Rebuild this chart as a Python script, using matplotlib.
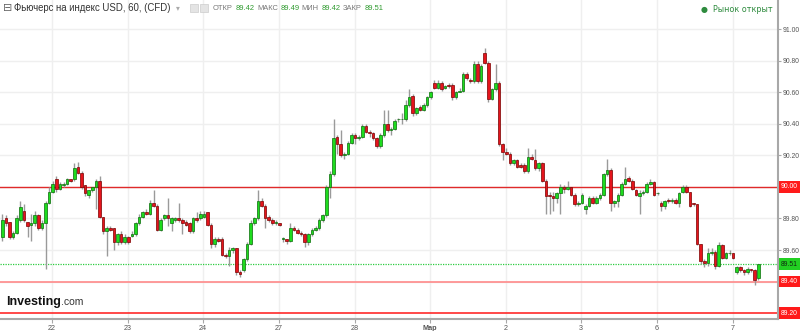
# -*- coding: utf-8 -*-
# Фьючерс на индекс USD, часовые свечи (60)
import numpy as np
import matplotlib
matplotlib.use('Agg')
import matplotlib.pyplot as plt
from matplotlib.patches import Rectangle

# ============================================================
# данные (open / close / high / low)
# ============================================================
opens = [89.68, 89.80, 89.78, 89.68, 89.71, 89.79, 89.85, 89.78, 89.76, 89.77,
         89.82, 89.74, 89.77, 89.90, 89.97, 90.05, 89.99, 90.01, 90.02, 90.05,
         90.05, 90.13, 90.09, 90.01, 89.95, 89.98, 90.00, 90.04, 89.81, 89.72,
         89.74, 89.74, 89.65, 89.70, 89.65, 89.68, 89.69, 89.70, 89.77, 89.81,
         89.84, 89.83, 89.90, 89.88, 89.73, 89.80, 89.82, 89.77, 89.79, 89.80,
         89.79, 89.78, 89.77, 89.72, 89.80, 89.80, 89.81, 89.84, 89.76, 89.64,
         89.67, 89.67, 89.57, 89.56, 89.60, 89.61, 89.46, 89.47, 89.54, 89.64,
         89.77, 89.80, 89.91, 89.88, 89.81, 89.79, 89.77, 89.77, 89.67, 89.67,
         89.66, 89.74, 89.73, 89.71, 89.70, 89.65, 89.70, 89.73, 89.74, 89.79,
         89.82, 90.00, 90.08, 90.32, 90.27, 90.20, 90.21, 90.28, 90.33, 90.31,
         90.32, 90.39, 90.35, 90.34, 90.31, 90.26, 90.33, 90.40, 90.36, 90.37,
         90.43, 90.43, 90.43, 90.52, 90.58, 90.47, 90.51, 90.49, 90.52, 90.57,
         90.66, 90.63, 90.66, 90.63, 90.65, 90.65, 90.57, 90.60, 90.61, 90.72,
         90.68, 90.67, 90.78, 90.67, 90.85, 90.79, 90.56, 90.62, 90.66, 90.27,
         90.22, 90.21, 90.15, 90.17, 90.14, 90.14, 90.10, 90.19, 90.17, 90.12,
         90.15, 90.04, 89.95, 89.94, 89.93, 89.96, 90.00, 89.99, 90.00, 89.95,
         89.89, 89.90, 89.86, 89.88, 89.93, 89.90, 89.93, 89.95, 90.08, 90.11,
         89.90, 89.91, 89.95, 90.02, 90.06, 90.04, 89.98, 89.94, 89.96, 89.97,
         90.02, 90.03, 89.96, 89.90, 89.88, 89.92, 89.91, 89.92, 89.90, 89.97,
         90.00, 89.97, 89.90, 89.89, 89.64, 89.53, 89.52, 89.58, 89.59, 89.50,
         89.63, 89.55, 89.58, 89.58, 89.46, 89.49, 89.47, 89.46, 89.48, 89.47,
         89.42]
closes = [89.79, 89.77, 89.68, 89.71, 89.80, 89.87, 89.79, 89.75, 89.77, 89.82,
          89.74, 89.77, 89.90, 89.97, 90.02, 89.99, 90.02, 90.02, 90.05, 90.04,
          90.12, 90.09, 90.00, 89.96, 89.98, 90.00, 90.04, 89.81, 89.72, 89.74,
          89.73, 89.65, 89.70, 89.65, 89.68, 89.65, 89.70, 89.77, 89.81, 89.84,
          89.83, 89.90, 89.88, 89.73, 89.79, 89.82, 89.80, 89.80, 89.80, 89.79,
          89.77, 89.76, 89.72, 89.80, 89.79, 89.83, 89.83, 89.76, 89.64, 89.67,
          89.66, 89.57, 89.56, 89.60, 89.61, 89.46, 89.45, 89.54, 89.64, 89.77,
          89.80, 89.91, 89.88, 89.80, 89.79, 89.77, 89.78, 89.76, 89.67, 89.66,
          89.74, 89.73, 89.71, 89.70, 89.65, 89.70, 89.73, 89.74, 89.79, 89.82,
          90.00, 90.08, 90.31, 90.27, 90.20, 90.21, 90.28, 90.33, 90.31, 90.32,
          90.39, 90.35, 90.34, 90.31, 90.26, 90.33, 90.40, 90.36, 90.37, 90.42,
          90.43, 90.43, 90.52, 90.57, 90.47, 90.50, 90.49, 90.52, 90.57, 90.60,
          90.63, 90.66, 90.62, 90.64, 90.64, 90.57, 90.60, 90.61, 90.72, 90.69,
          90.67, 90.78, 90.67, 90.77, 90.79, 90.56, 90.62, 90.66, 90.27, 90.22,
          90.21, 90.15, 90.17, 90.13, 90.13, 90.10, 90.19, 90.18, 90.12, 90.15,
          90.04, 89.94, 89.94, 89.93, 89.96, 90.00, 89.99, 90.00, 89.95, 89.89,
          89.90, 89.95, 89.88, 89.93, 89.90, 89.93, 89.95, 90.08, 90.11, 89.90,
          89.91, 89.95, 90.02, 90.05, 90.04, 89.99, 89.95, 89.96, 89.97, 90.02,
          90.03, 89.95, 89.96, 89.88, 89.91, 89.91, 89.92, 89.90, 89.96, 90.00,
          89.97, 89.88, 89.89, 89.64, 89.53, 89.52, 89.58, 89.59, 89.50, 89.63,
          89.55, 89.58, 89.58, 89.55, 89.49, 89.47, 89.46, 89.48, 89.47, 89.41,
          89.51]
highs = [89.83, 89.82, 89.78, 89.72, 89.82, 89.91, 89.89, 89.78, 89.83, 89.85,
         89.83, 89.79, 89.91, 90.00, 90.04, 90.07, 90.03, 90.03, 90.06, 90.05,
         90.15, 90.16, 90.10, 90.01, 89.98, 90.00, 90.05, 90.07, 89.81, 89.75,
         89.75, 89.74, 89.71, 89.72, 89.70, 89.69, 89.72, 89.78, 89.83, 89.85,
         89.86, 89.92, 89.98, 89.89, 89.80, 89.83, 89.93, 89.81, 89.81, 89.90,
         89.80, 89.79, 89.78, 89.81, 89.84, 89.85, 89.85, 89.84, 89.77, 89.68,
         89.68, 89.68, 89.58, 89.62, 89.62, 89.61, 89.47, 89.55, 89.65, 89.79,
         89.81, 89.98, 89.93, 89.89, 89.82, 89.80, 89.79, 89.77, 89.68, 89.67,
         89.77, 89.75, 89.74, 89.72, 89.71, 89.71, 89.74, 89.75, 89.80, 89.83,
         90.01, 90.10, 90.43, 90.33, 90.36, 90.22, 90.29, 90.34, 90.34, 90.33,
         90.40, 90.40, 90.36, 90.35, 90.32, 90.34, 90.49, 90.49, 90.38, 90.43,
         90.44, 90.47, 90.55, 90.62, 90.59, 90.51, 90.52, 90.53, 90.58, 90.61,
         90.68, 90.68, 90.67, 90.65, 90.66, 90.66, 90.61, 90.63, 90.73, 90.73,
         90.69, 90.80, 90.80, 90.78, 90.88, 90.80, 90.63, 90.78, 90.67, 90.28,
         90.25, 90.22, 90.18, 90.18, 90.15, 90.15, 90.25, 90.21, 90.24, 90.16,
         90.16, 90.05, 89.97, 89.97, 89.97, 90.02, 90.01, 90.04, 90.00, 89.96,
         89.91, 89.96, 89.89, 89.94, 89.94, 89.94, 89.96, 90.09, 90.18, 90.12,
         89.92, 89.96, 90.03, 90.13, 90.07, 90.05, 89.99, 89.98, 89.98, 90.03,
         90.05, 90.04, 89.97, 89.91, 89.92, 89.93, 89.93, 89.93, 89.97, 90.01,
         90.01, 89.97, 89.90, 89.89, 89.64, 89.54, 89.61, 89.61, 89.60, 89.65,
         89.64, 89.59, 89.60, 89.58, 89.50, 89.50, 89.48, 89.49, 89.48, 89.48,
         89.51]
lows = [89.66, 89.75, 89.67, 89.67, 89.70, 89.78, 89.78, 89.68, 89.66, 89.75,
        89.73, 89.73, 89.48, 89.89, 89.96, 89.97, 89.98, 90.00, 90.01, 90.03,
        90.04, 90.08, 89.99, 89.94, 89.93, 89.97, 89.86, 89.80, 89.70, 89.56,
        89.72, 89.60, 89.63, 89.64, 89.64, 89.64, 89.68, 89.69, 89.76, 89.80,
        89.82, 89.82, 89.87, 89.72, 89.72, 89.79, 89.75, 89.72, 89.78, 89.78,
        89.70, 89.75, 89.71, 89.71, 89.78, 89.79, 89.80, 89.75, 89.61, 89.62,
        89.65, 89.56, 89.55, 89.50, 89.58, 89.44, 89.43, 89.46, 89.53, 89.63,
        89.76, 89.79, 89.87, 89.74, 89.78, 89.76, 89.76, 89.75, 89.65, 89.64,
        89.65, 89.72, 89.70, 89.69, 89.62, 89.63, 89.69, 89.72, 89.73, 89.78,
        89.81, 89.93, 90.07, 90.21, 90.19, 90.18, 90.20, 90.27, 90.27, 90.30,
        90.31, 90.34, 90.32, 90.30, 90.25, 90.25, 90.32, 90.35, 90.33, 90.36,
        90.41, 90.40, 90.42, 90.51, 90.45, 90.46, 90.48, 90.48, 90.51, 90.56,
        90.62, 90.62, 90.61, 90.62, 90.63, 90.55, 90.56, 90.60, 90.60, 90.68,
        90.66, 90.66, 90.66, 90.66, 90.78, 90.54, 90.55, 90.61, 90.26, 90.17,
        90.20, 90.14, 90.14, 90.12, 90.12, 90.09, 90.09, 90.17, 90.11, 90.10,
        90.03, 89.83, 89.83, 89.85, 89.90, 89.83, 89.96, 89.98, 89.94, 89.88,
        89.88, 89.89, 89.83, 89.87, 89.89, 89.89, 89.92, 89.94, 90.07, 89.85,
        89.87, 89.87, 89.94, 90.01, 90.03, 89.98, 89.94, 89.83, 89.95, 89.96,
        90.01, 89.94, 89.95, 89.85, 89.86, 89.90, 89.90, 89.89, 89.87, 89.96,
        89.96, 89.87, 89.88, 89.63, 89.51, 89.49, 89.50, 89.57, 89.48, 89.49,
        89.54, 89.54, 89.57, 89.54, 89.45, 89.46, 89.44, 89.45, 89.46, 89.38,
        89.41]

day_ticks = [13.8, 34.9, 55.8, 76.9, 97.9, 118.8, 139.9, 160.8, 181.9, 203.0]
day_labels = ['22', '23', '24', '27', '28', 'Мар', '2', '3', '6', '7']
price_ticks = [89.60, 89.80, 90.20, 90.40, 90.60, 90.80, 91.00]
grid_levels = [89.40, 89.60, 89.80, 90.00, 90.20, 90.40, 90.60, 90.80, 91.00]

lvl_red = 90.00
lvl_last = 89.51
lvl_pink = 89.40
lvl_low = 89.20

GREEN = '#1edc1e'
GREEN_EDGE = '#0b6b0b'
RED = '#e5141c'
RED_EDGE = '#7a0000'

plt.rcParams['font.family'] = ['Liberation Sans', 'DejaVu Sans']

fig = plt.figure(figsize=(8, 3.31), dpi=100)
W, H = 800.0, 331.0
ax = fig.add_axes([0, 12 / H, 778 / W, 319 / H])

n = len(closes)
x = np.arange(n)

# сетка
for lv in grid_levels:
    ax.axhline(lv, color='#efefef', lw=1, zorder=0)
for d in day_ticks:
    ax.axvline(d, color='#efefef', lw=1, zorder=0)

# уровни
ax.axhline(lvl_red, color='#e02a2a', lw=1, zorder=1)
ax.axhline(lvl_pink, color='#ff8a8a', lw=1.2, zorder=1)
ax.axhline(lvl_low, color='#ff2a2a', lw=1.2, zorder=1)
ax.axhline(lvl_last, color='#2ecc40', lw=0.9, ls=(0, (1, 1)), zorder=1)

# свечи
for i in range(n):
    o, c, h, l = opens[i], closes[i], highs[i], lows[i]
    ax.vlines(x[i], l, h, color='#9a9a9a', lw=1, zorder=2)
    up = c >= o
    body = max(abs(c - o), 0.004)
    ax.add_patch(Rectangle((x[i] - 0.38, min(o, c)), 0.76, body,
                           facecolor=GREEN if up else RED,
                           edgecolor=GREEN_EDGE if up else RED_EDGE,
                           lw=0.5, zorder=3))

ax.set_xlim(-0.64, 215.47)
ax.set_ylim(89.162, 91.187)

# оси
for s in ['top', 'left']:
    ax.spines[s].set_visible(False)
for s in ['right', 'bottom']:
    ax.spines[s].set_color('#a8a8a8')
    ax.spines[s].set_linewidth(1.5)

ax.yaxis.tick_right()
ax.set_yticks(price_ticks)
ax.set_yticklabels(['%.2f' % v for v in price_ticks])
ax.tick_params(axis='y', length=2.5, width=0.8, color='#a8a8a8', pad=1,
               labelsize=4.9, labelcolor='#555555')
ax.set_xticks(day_ticks)
ax.set_xticklabels(day_labels)
ax.tick_params(axis='x', length=3, width=0.8, color='#a8a8a8', pad=1,
               labelsize=5.2, labelcolor='#555555')
for t in ax.get_xticklabels():
    if t.get_text() == 'Мар':
        t.set_fontweight('bold')

# метки уровней справа
def level_tag(v, bg, fg):
    ax.text(1.004, v, '%.2f' % v, transform=ax.get_yaxis_transform(),
            ha='left', va='center', fontsize=4.9, color=fg, clip_on=False,
            bbox=dict(boxstyle='square,pad=0.35', facecolor=bg, edgecolor='none'))

level_tag(lvl_red, '#ff1a1a', 'white')
level_tag(lvl_last, '#22d022', '#102a10')
level_tag(lvl_pink, '#ff1a1a', 'white')
level_tag(lvl_low, '#ff1a1a', 'white')

# заголовок
fig.text(3 / W, 1 - 8 / H, '⊟', fontsize=8, color='#666666', va='center',
         family=['DejaVu Sans'])
fig.text(14 / W, 1 - 8 / H, 'Фьючерс на индекс USD, 60, (CFD)', fontsize=6.9,
         color='#333333', va='center')
fig.text(176 / W, 1 - 8 / H, '▾', fontsize=5.5, color='#aaaaaa', va='center',
         family=['DejaVu Sans'])
fig.patches.append(Rectangle((190 / W, 1 - 12 / H), 8 / W, 8 / H, transform=fig.transFigure,
                             facecolor='#e4e4e4', edgecolor='#cccccc', lw=0.5))
fig.patches.append(Rectangle((200 / W, 1 - 12 / H), 8 / W, 8 / H, transform=fig.transFigure,
                             facecolor='#e4e4e4', edgecolor='#cccccc', lw=0.5))

renderer = fig.canvas.get_renderer()
parts = [('ОТКР', '#777777'), ('89.42', '#2e9a2e'), ('МАКС', '#777777'), ('89.49', '#2e9a2e'),
         ('МИН', '#777777'), ('89.42', '#2e9a2e'), ('ЗАКР', '#777777'), ('89.51', '#2e9a2e')]
xpos = 213.0
for s, col in parts:
    t = fig.text(xpos / W, 1 - 8 / H, s, fontsize=5.4, color=col, va='center')
    xpos += t.get_window_extent(renderer=renderer).width + 2.5

fig.text(773 / W, 1 - 9 / H, '●  Рынок открыт', fontsize=5.8, color='#2e8b3e',
         ha='right', va='center', family=['DejaVu Sans'])

# логотип
fig.text(6 / W, 1 - 305 / H, 'Investing', fontsize=9, fontweight='bold',
         color='#111111', va='baseline')
fig.text(61 / W, 1 - 305 / H, '.com', fontsize=7.5, color='#333333', va='baseline')

fig.savefig('out.png', dpi=100)
